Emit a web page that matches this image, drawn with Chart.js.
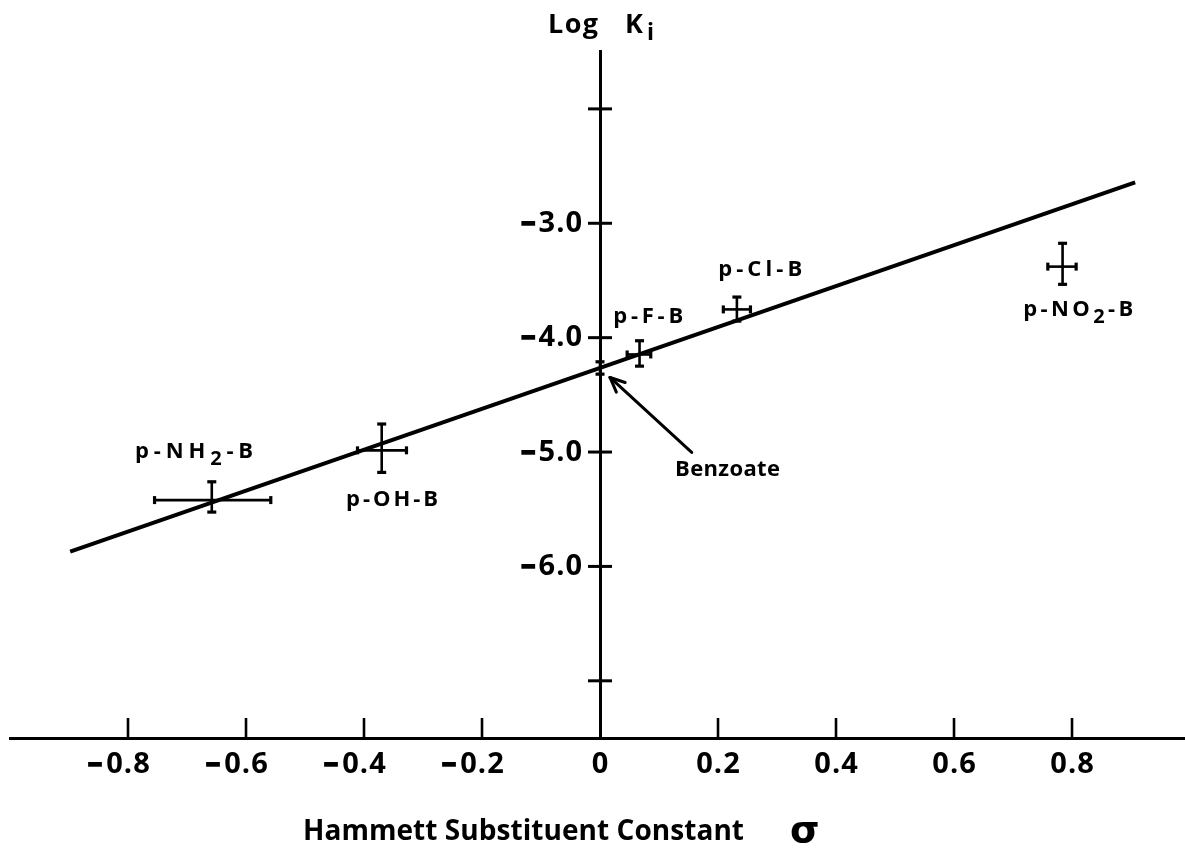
<!DOCTYPE html>
<html>
<head>
<meta charset="utf-8">
<script src="https://cdn.jsdelivr.net/npm/chart.js@4.4.1/dist/chart.umd.min.js"></script>
<style>
html,body{margin:0;padding:0;background:#fff;}
#wrap{width:1185px;height:848px;position:relative;}
</style>
</head>
<body>
<div id="wrap"><canvas id="c" width="1185" height="848"></canvas></div>
<script>
// ---- data ----
const categories = ['p-NH2-B', 'p-OH-B', 'Benzoate', 'p-F-B', 'p-Cl-B', 'p-NO2-B'];
const sigma = [-0.658, -0.370, 0.0, 0.067, 0.232, 0.784];
const sigmaErrMinus = [0.097, 0.041, 0, 0.021, 0.023, 0.025];
const sigmaErrPlus = [0.100, 0.042, 0, 0.019, 0.023, 0.023];
const logKi = [-5.42, -4.985, -4.265, -4.147, -3.753, -3.379];
const logKiErrPlus = [0.16, 0.23, 0.054, 0.12, 0.108, 0.204];
const logKiErrMinus = [0.105, 0.193, 0.054, 0.102, 0.102, 0.155];
const fitSigma = [-0.898, 0.907];
const fitLogKi = [-5.871, -2.642];
const xTickValues = [-0.8, -0.6, -0.4, -0.2, 0, 0.2, 0.4, 0.6, 0.8];
const xTickLabels = ['-0.8', '-0.6', '-0.4', '-0.2', '0', '0.2', '0.4', '0.6', '0.8'];
const yTickValues = [-2, -3, -4, -5, -6, -7];
const yTickLabels = ['', '-3.0', '-4.0', '-5.0', '-6.0', ''];
const xTitle = 'Hammett Substituent Constant';
const xTitleSymbol = 'σ';
const yTitle = 'Log';
const yTitleK = 'K';
const yTitleSub = 'i';

const FONT = '"Open Sans"';

// split text into runs with digits as subscripts
function toRuns(text) {
  const runs = [];
  for (const ch of text) {
    const sub = /[0-9]/.test(ch);
    if (runs.length && runs[runs.length - 1].sub === sub) runs[runs.length - 1].t += ch;
    else runs.push({ t: ch, sub });
  }
  return runs;
}

// draw runs so that they fill [left,right] by adjusting letter spacing
function drawFitted(ctx, runs, left, right, baseline, size) {
  ctx.save();
  ctx.textAlign = 'left';
  ctx.textBaseline = 'alphabetic';
  ctx.fillStyle = '#000';
  ctx.letterSpacing = '0px';
  let nChars = 0, w0 = 0;
  runs.forEach(r => {
    const s = r.sub ? Math.round(size * 0.9) : size;
    ctx.font = `bold ${s}px ${FONT}`;
    w0 += ctx.measureText(r.t).width;
    nChars += [...r.t].length;
  });
  let sp = nChars > 1 ? (right - left - w0) / (nChars - 1) : 0;
  sp = Math.max(-1.5, Math.min(8, sp));
  ctx.letterSpacing = sp + 'px';
  let x = left;
  runs.forEach(r => {
    const s = r.sub ? Math.round(size * 0.9) : size;
    ctx.font = `bold ${s}px ${FONT}`;
    ctx.fillText(r.t, x, baseline + (r.sub ? size * 0.3 : 0));
    x += ctx.measureText(r.t).width;
  });
  ctx.restore();
}

// tick label: digits centred on the tick, minus sign hanging to the left
function drawTickLabel(ctx, label, cx, baseline, size, gap, alignRight) {
  if (!label) return;
  ctx.save();
  ctx.letterSpacing = '1px';
  ctx.font = `bold ${size}px ${FONT}`;
  ctx.fillStyle = '#000';
  ctx.strokeStyle = '#000';
  ctx.textBaseline = 'alphabetic';
  const neg = label.startsWith('-');
  const digits = neg ? label.slice(1) : label;
  const w = ctx.measureText(digits).width - 1;
  const left = alignRight ? cx - w : cx - w / 2;
  ctx.textAlign = 'left';
  ctx.fillText(digits, left, baseline);
  if (neg) {
    // the sign is drawn as a short heavy dash, as in the lettering of the figure
    ctx.letterSpacing = '0px';
    ctx.textAlign = 'right';
    ctx.lineWidth = 1.6;
    ctx.fillText('–', left - gap, baseline - 1);
    ctx.strokeText('–', left - gap, baseline - 1);
  }
  ctx.restore();
}

function seg(ctx, x1, y1, x2, y2, w) {
  ctx.lineWidth = w;
  ctx.beginPath();
  ctx.moveTo(x1, y1);
  ctx.lineTo(x2, y2);
  ctx.stroke();
}

// label boxes relative to the point pixel: [left, right, baseline]
const labelBoxes = [
  [-76.7, 41.3, -42],
  [-35.7, 56.3, 55.3],
  [75, 180, 108],
  [-26.3, 43.7, -31],
  [-18.7, 65.3, -33],
  [-39.3, 70.7, 49.4]
];

const figurePlugin = {
  id: 'figure',
  beforeDraw(chart) {
    const ctx = chart.ctx;
    ctx.save();
    ctx.fillStyle = '#fff';
    ctx.fillRect(0, 0, chart.width, chart.height);
    ctx.restore();
  },
  afterDatasetsDraw(chart) {
    const ctx = chart.ctx;
    const xs = chart.scales.x, ys = chart.scales.y;
    ctx.save();
    ctx.strokeStyle = '#000';
    ctx.lineCap = 'butt';
    for (let i = 0; i < sigma.length; i++) {
      const px = xs.getPixelForValue(sigma[i]);
      const py = ys.getPixelForValue(logKi[i]);
      if (logKiErrPlus[i] > 0 || logKiErrMinus[i] > 0) {
        const yt = ys.getPixelForValue(logKi[i] + logKiErrPlus[i]);
        const yb = ys.getPixelForValue(logKi[i] - logKiErrMinus[i]);
        seg(ctx, px, yt, px, yb, 2.6);
        seg(ctx, px - 4.5, yt, px + 4.5, yt, 3.2);
        seg(ctx, px - 4.5, yb, px + 4.5, yb, 3.2);
      }
      if (sigmaErrPlus[i] > 0 || sigmaErrMinus[i] > 0) {
        const xl = xs.getPixelForValue(sigma[i] - sigmaErrMinus[i]);
        const xr = xs.getPixelForValue(sigma[i] + sigmaErrPlus[i]);
        seg(ctx, xl, py, xr, py, 2.6);
        seg(ctx, xl, py - 4, xl, py + 4, 3.2);
        seg(ctx, xr, py - 4, xr, py + 4, 3.2);
      }
    }
    ctx.restore();
  },
  afterDraw(chart) {
    const ctx = chart.ctx;
    const xs = chart.scales.x, ys = chart.scales.y;
    const area = chart.chartArea;
    const x0 = xs.getPixelForValue(0);
    ctx.save();
    ctx.strokeStyle = '#000';
    ctx.fillStyle = '#000';
    // tick marks and tick labels
    yTickValues.forEach((v, i) => {
      const py = ys.getPixelForValue(v);
      seg(ctx, x0 - 12, py, x0 + 12, py, 3);
      drawTickLabel(ctx, yTickLabels[i], x0 - 18, py + 8.6, 29, 3, true);
    });
    xTickValues.forEach((v, i) => {
      const px = xs.getPixelForValue(v);
      if (v !== 0) seg(ctx, px, area.bottom, px, area.bottom - 20, 2.6);
      drawTickLabel(ctx, xTickLabels[i], px, area.bottom + 35, 29, 4, false);
    });
    // point labels
    for (let i = 0; i < categories.length; i++) {
      const px = xs.getPixelForValue(sigma[i]);
      const py = ys.getPixelForValue(logKi[i]);
      const b = labelBoxes[i];
      drawFitted(ctx, toRuns(categories[i]), px + b[0], px + b[1], py + b[2], 22);
    }
    // arrow to benzoate
    const bi = categories.indexOf('Benzoate');
    const bx = xs.getPixelForValue(sigma[bi]);
    const by = ys.getPixelForValue(logKi[bi]);
    const tx = bx + 10, ty = by + 9.5;
    const sx = bx + 91.7, sy = by + 84.5;
    ctx.lineCap = 'round';
    seg(ctx, sx, sy, tx, ty, 3);
    const ang = Math.atan2(sy - ty, sx - tx);
    const L = 16, a = 0.42;
    seg(ctx, tx, ty, tx + L * Math.cos(ang - a), ty + L * Math.sin(ang - a), 3);
    seg(ctx, tx, ty, tx + L * Math.cos(ang + a), ty + L * Math.sin(ang + a), 3);
    // axis titles
    drawFitted(ctx, [{ t: xTitle, sub: false }], x0 - 297, x0 + 144, 840, 28);
    ctx.letterSpacing = '0px';
    ctx.font = '600 38px "DejaVu Sans"';
    ctx.textAlign = 'left';
    ctx.textBaseline = 'alphabetic';
    ctx.fillText(xTitleSymbol, x0 + 190, 842);
    drawFitted(ctx, [{ t: yTitle, sub: false }], x0 - 52, x0 - 2, 33, 27);
    drawFitted(ctx, [{ t: yTitleK, sub: false }], x0 + 25, x0 + 43, 33, 27);
    ctx.letterSpacing = '0px';
    ctx.font = `bold 23px ${FONT}`;
    ctx.fillText(yTitleSub, x0 + 47, 40);
    ctx.restore();
  }
};

new Chart(document.getElementById('c'), {
  type: 'scatter',
  data: {
    datasets: [
      {
        label: 'Inhibitors',
        data: sigma.map((s, i) => ({ x: s, y: logKi[i] })),
        pointRadius: 0,
        pointHoverRadius: 0,
        showLine: false
      },
      {
        label: 'Linear fit',
        data: fitSigma.map((s, i) => ({ x: s, y: fitLogKi[i] })),
        showLine: true,
        borderColor: '#000',
        borderWidth: 4,
        pointRadius: 0,
        pointHoverRadius: 0,
        fill: false,
        tension: 0
      }
    ]
  },
  options: {
    responsive: false,
    animation: false,
    events: [],
    layout: { padding: { left: 10, right: 0, top: 51.7, bottom: 110 } },
    plugins: { legend: { display: false }, tooltip: { enabled: false } },
    scales: {
      x: {
        type: 'linear',
        min: -1.0,
        max: 0.9915,
        position: 'bottom',
        grid: { display: false, drawTicks: false },
        border: { display: true, color: '#000', width: 3 },
        ticks: { display: false, stepSize: 0.2, includeBounds: false }
      },
      y: {
        type: 'linear',
        min: -7.5,
        max: -1.5,
        position: { x: 0 },
        grid: { display: false, drawTicks: false },
        border: { display: true, color: '#000', width: 3 },
        ticks: { display: false, stepSize: 1, includeBounds: false }
      }
    }
  },
  plugins: [figurePlugin]
});
</script>
</body>
</html>
